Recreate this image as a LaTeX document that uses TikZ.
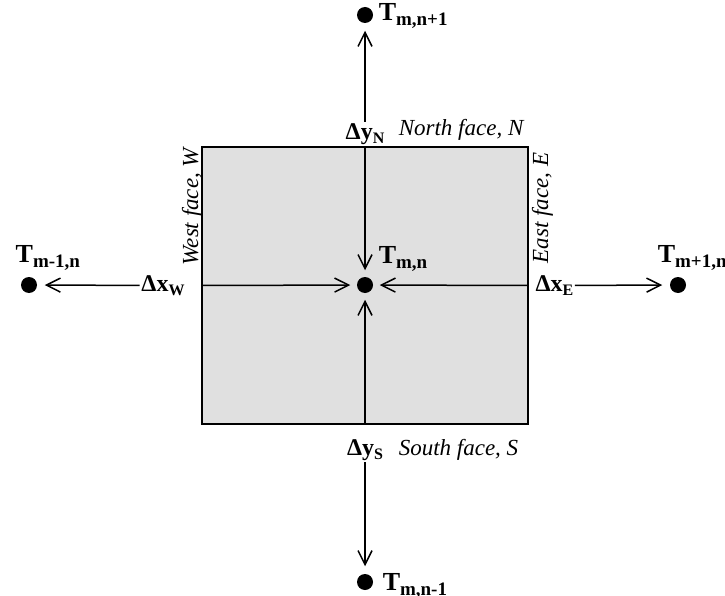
\documentclass[tikz,border=0pt]{standalone}
\usepackage{fontspec}
\setmainfont{Liberation Serif}
\usetikzlibrary{arrows.meta,positioning}
\definecolor{cellgray}{gray}{0.88}
\newcommand\Tsub[1]{T\raisebox{-5pt}{\fontsize{19}{19}\selectfont #1}}
\newcommand\Dsub[2]{Δ#1\raisebox{-4pt}{\fontsize{16}{16}\selectfont #2}}
\tikzset{
	dotA/.style={
		fill,circle,inner sep=0pt,minimum size=16pt
	},
	cellA/.style={draw,fill=cellgray,line width=1.5pt,inner sep=0pt},
	tlab/.style={font={\bfseries\fontsize{26}{26}\selectfont},inner sep=0pt},
	dlab/.style={font={\bfseries\fontsize{24}{24}\selectfont},inner sep=1pt},
	flab/.style={font={\itshape\fontsize{23}{23}\selectfont},inner sep=0pt},
	>={Straight Barb[length=14pt,width=14pt]},
}
\def\gapC{6pt}
\def\gapO{7pt}

\begin{document}
\begin{tikzpicture}[
x=1pt, y=-1pt, line width=1.5pt
]
\useasboundingbox (0,0) rectangle (725,596);
% control volume and nodal points
\node [cellA, minimum width=326pt, minimum height=277pt] (cell) at (365,285.5) {};
\node [dotA] (C) at (365,285) {};
\node [dotA] (N) at (365,15) {};
\node [dotA] (S) at (365,582) {};
\node [dotA] (W) at (29,285) {};
\node [dotA] (E) at (678,285) {};
% temperatures
\node [tlab, anchor=base west] (tC) at ([xshift=13pt,yshift=22pt]C) {\Tsub{m,n}};
\node [tlab, anchor=base west] (tN) at ([xshift=13pt,yshift=-6pt]N) {\Tsub{m,n+1}};
\node [tlab, anchor=base west] (tS) at ([xshift=17pt,yshift=-8pt]S) {\Tsub{m,n-1}};
\node [tlab, anchor=base west] (tW) at ([xshift=-14pt,yshift=23pt]W) {\Tsub{m-1,n}};
\node [tlab, anchor=base west] (tE) at ([xshift=-21pt,yshift=23pt]E) {\Tsub{m+1,n}};
% distances
\node [dlab, above=0pt of cell.north] (dyN) {\Dsub{y}{N}};
\node [dlab, below=13pt of cell.south] (dyS) {\Dsub{y}{S}};
\node [dlab, left=15pt of cell.west] (dxW) {\Dsub{x}{W}};
\node [dlab, right=5pt of cell.east] (dxE) {\Dsub{x}{E}};
% faces
\node [flab, anchor=base west] (fN) at (398,136) {North face, N};
\node [flab, anchor=base west] (fS) at (398,455) {South face, S};
\node [flab, anchor=base west, rotate=90] (fW) at (198,266) {West face, W};
\node [flab, anchor=base west, rotate=90] (fE) at (548,264) {East face, E};
% arrows
\draw [->, shorten >=\gapC] (cell.north) -- (C);
\draw [->, shorten >=\gapC] (cell.south) -- (C);
\draw [->, shorten >=\gapC] (cell.west) -- (C);
\draw [->, shorten >=\gapC] (cell.east) -- (C);
\draw [->, shorten >=\gapO] (dyN) -- (N);
\draw [->, shorten >=\gapO] (dyS) -- (S);
\draw [->, shorten >=\gapO] (dxW) -- (W);
\draw [->, shorten >=\gapO] (dxE) -- (E);
\end{tikzpicture}
\end{document}
